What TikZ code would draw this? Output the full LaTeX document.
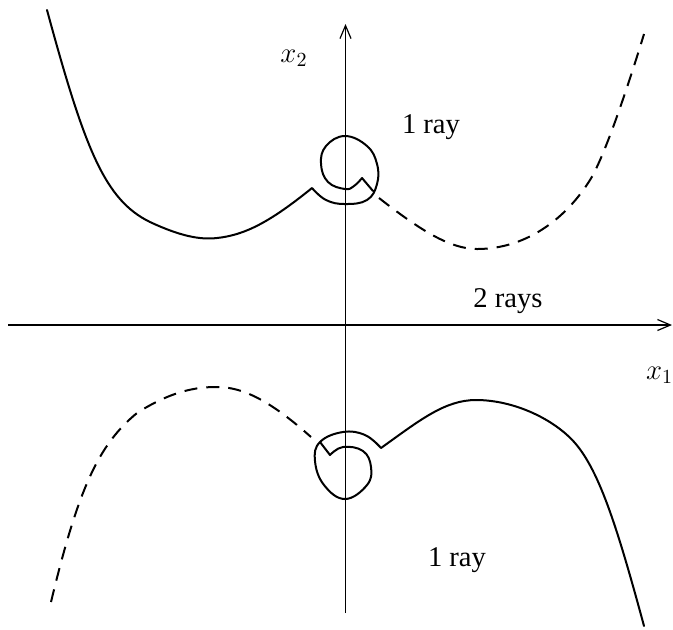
\documentclass[tikz,border=0pt]{standalone}
\usepackage{fontspec}
\setmainfont{Liberation Serif}
\usetikzlibrary{arrows.meta}
\tikzset{
  axis/.style={line width=0.6pt,-{Straight Barb[length=6.5pt,width=5.5pt]}},
  branch/.style={line width=1pt,line join=round,line cap=round},
  ghost/.style={line width=1pt,dash pattern=on 6.5pt off 4.5pt},
  rlab/.style={font=\fontsize{14.3}{17}\selectfont},
  alab/.style={font=\fontsize{14}{16}\selectfont}
}
\begin{document}
\begin{tikzpicture}[x=0.5pt,y=-0.5pt]
  \useasboundingbox (0,0) rectangle (673,629);
  \coordinate (w) at (8,325); \coordinate (e) at (672,325);
  \coordinate (s) at (345.5,613); \coordinate (n) at (345.5,24);
  \draw[axis] (w) -- (e);
  \draw[axis] (s) -- (n);
  \node[alab] (xtwo) at (294,58) {$x_2$};
  \node[alab,anchor=west] (xone) at (639,375) {$x_1$};
  \node[rlab] (ray1) at (431,127) {1 ray};
  \node[rlab] (rays2) at (508,301) {2 rays};
  \node[rlab] (ray3) at (457,560) {1 ray};
  \draw[branch] (47,10) .. controls (85,150) and (105,200) .. (150,222)
    .. controls (180,236) and (200,240) .. (217,238)
    .. controls (245,235) and (270,222) .. (312,188)
    -- plot[smooth,tension=0.7] coordinates {(312,188) (326,200) (345,204) (367,200) (377,184) (377,164) (367,146) (345,136) (326,146) (321,164) (328,182) (345,189) (354,186) (362,178)}
    -- (373,191);
  \draw[ghost] (379,198) .. controls (420,230) and (450,249) .. (477,249)
    .. controls (525,249) and (565,220) .. (590,180)
    .. controls (605,156) and (630,80) .. (644,34);
  \draw[ghost] (51,602) .. controls (78,490) and (98,445) .. (137,413)
    .. controls (165,395) and (190,387) .. (215,387)
    .. controls (245,386) and (275,405) .. (311,437);
  \draw[branch] (320,442) -- (330,455)
    -- plot[smooth,tension=0.7] coordinates {(330,455) (343,447) (363,451) (371,467) (367,485) (345,499) (324,485) (315,461) (320,442) (343,432) (365,435) (381,448)}
    .. controls (420,420) and (445,400) .. (476,400)
    .. controls (515,400) and (555,420) .. (575,443)
    .. controls (600,472) and (618,530) .. (644,626);
\end{tikzpicture}
\end{document}
